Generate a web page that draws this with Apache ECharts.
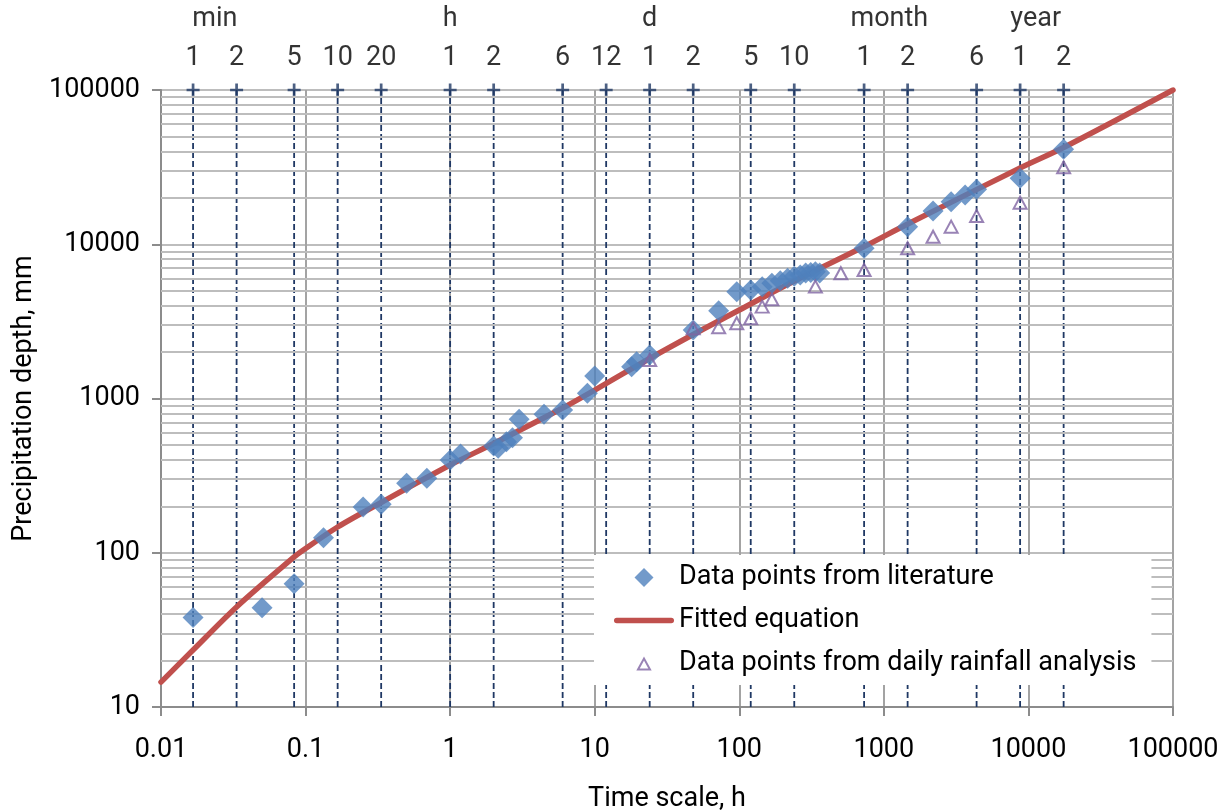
<!DOCTYPE html>
<html>
<head>
<meta charset="utf-8">
<script src="https://cdn.jsdelivr.net/npm/echarts@6/dist/echarts.min.js"></script>
<style>
  html, body { margin: 0; padding: 0; background: #ffffff; }
  #chart { width: 1226px; height: 811px; }
</style>
</head>
<body>
<div id="chart"></div>
<script>
// Precipitation depth (mm) against duration (h)

// Literature data points
const literatureHours = [1/60, 0.05, 5/60, 0.133, 0.25, 1/3, 0.5, 0.69, 1, 1.18, 2, 2.15, 2.45, 2.7, 3, 4.46, 6, 8.9, 10,
  18, 19.5, 24, 48, 72, 96, 120, 144, 168, 192, 216, 240, 264, 288, 312, 336, 360,
  730, 1460, 2190, 2920, 3650, 4380, 8760, 17520];
const literatureDepth = [38, 44, 63, 125, 198, 206, 282, 304, 400, 436, 492, 475, 525, 557, 733, 790, 842, 1081, 1400,
  1607, 1733, 1914, 2780, 3706, 4920, 5050, 5312, 5585, 5807, 6020, 6200, 6330, 6500, 6550, 6640, 6500,
  9420, 13000, 16440, 18880, 20860, 22700, 26800, 41300];

// Daily rainfall analysis
const dailyHours = [24, 48, 72, 96, 120, 144, 168, 336, 504, 730, 1460, 2190, 2920, 4380, 8760, 17520];
const dailyDepth = [1778, 2850, 2900, 3075, 3315, 3940, 4395, 5312, 6490, 6810, 9420, 11190, 13000, 15240, 18600, 31530];

// Fitted equation
const fitHours = [0.01, 1/60, 2/60, 5/60, 0.1, 1/6, 1/3, 1, 2, 6, 10, 24, 48, 100, 240, 720, 1440, 8760, 17520, 100000];
const fitDepth = [14.5, 23.4, 44.5, 93.9, 106.5, 146.9, 211.8, 370.6, 510.8, 867.8, 1135, 1817, 2599, 3748, 5778, 9598, 13430, 31210, 42390, 100000];

// Reference durations marked across the top
const markHours = [1/60, 2/60, 5/60, 10/60, 20/60, 1, 2, 6, 12, 24, 48, 120, 240, 730, 1460, 4380, 8760, 17520];
const markLabels = ['1', '2', '5', '10', '20', '1', '2', '6', '12', '1', '2', '5', '10', '1', '2', '6', '1', '2'];
const unitHours = [0.0236, 1, 24, 1091, 11220];
const unitLabels = ['min', 'h', 'd', 'month', 'year'];

// Axis tick labels
const xTickLabels = ['0.01', '0.1', '1', '10', '100', '1000', '10000', '100000'];
const yTickLabels = ['10', '100', '1000', '10000', '100000'];

const FONT = 'Roboto';
const TEXT = { fontFamily: FONT, fontSize: 27, color: '#000000' };
const Y_MIN = 10;
const Y_TOP = 100000;
const NAVY = '#1F3864';

// horizontal grid at 2..9 within each decade
const minorY = [];
for (let d = 10; d < 100000; d *= 10) {
  for (let m = 2; m <= 9; m++) minorY.push(m * d);
}

const zip = (xs, ys) => xs.map((x, i) => [x, ys[i]]);

// one dashed vertical per marked duration, spanning the full depth range
const markLineSeries = markHours.map(h => ({
  type: 'line', z: 3, silent: true, symbol: 'none',
  lineStyle: { color: NAVY, width: 1.8, type: [6, 3] },
  data: [[h, Y_MIN], [h, Y_TOP]]
}));

const chart = echarts.init(document.getElementById('chart'), null, { renderer: 'canvas' });

chart.setOption({
  animation: false,
  backgroundColor: '#ffffff',
  grid: { left: 161, right: 53, top: 90, bottom: 104, outerBoundsMode: 'none', containLabel: false },
  xAxis: {
    type: 'log', logBase: 10, min: 0.01, max: 100000, splitNumber: 7,
    name: 'Time scale, h', nameLocation: 'middle', nameGap: 79,
    nameTextStyle: TEXT,
    axisLine: { show: true, lineStyle: { color: '#8C8C8C', width: 2 } },
    axisTick: { show: true, length: 9, lineStyle: { color: '#8C8C8C', width: 2 } },
    axisLabel: Object.assign({ margin: 30, formatter: v => xTickLabels[Math.round(Math.log10(v)) + 2] }, TEXT),
    splitLine: { show: true, lineStyle: { color: '#A3A3A3', width: 2 } },
    minorTick: { show: false }, minorSplitLine: { show: false }
  },
  yAxis: {
    type: 'log', logBase: 10, min: Y_MIN, max: Y_TOP, splitNumber: 4,
    name: 'Precipitation depth, mm', nameLocation: 'middle', nameGap: 122, nameRotate: 90,
    nameTextStyle: TEXT,
    axisLine: { show: true, lineStyle: { color: '#8C8C8C', width: 2 } },
    axisTick: { show: true, length: 9, lineStyle: { color: '#8C8C8C', width: 2 } },
    axisLabel: Object.assign({ margin: 21, formatter: v => yTickLabels[Math.round(Math.log10(v)) - 1] }, TEXT),
    splitLine: { show: true, lineStyle: { color: '#BDBDBD', width: 2 } },
    minorTick: { show: false }, minorSplitLine: { show: false }
  },
  legend: {
    orient: 'vertical', left: 594, top: 555, z: 20,
    backgroundColor: '#ffffff', padding: [9, 15, 8, 19],
    itemWidth: 60, itemHeight: 19, itemGap: 16,
    selectedMode: false,
    textStyle: Object.assign({ lineHeight: 27 }, TEXT),
    data: [
      { name: 'Data points from literature', icon: 'path://M0 0M60 19M30 0L39.5 9.5L30 19L20.5 9.5Z' },
      { name: 'Fitted equation', icon: 'path://M2.75 6.75H57.25A2.75 2.75 0 0 1 57.25 12.25H2.75A2.75 2.75 0 0 1 2.75 6.75Z' },
      { name: 'Data points from daily rainfall analysis', icon: 'path://M0 0M60 19M24 15.5L30 4.5L36 15.5Z' }
    ]
  },
  series: [
    {
      // unit captions above the duration marks, plus the minor horizontal grid
      name: 'units', type: 'scatter', z: 1, silent: true, clip: false,
      symbolSize: 1, itemStyle: { color: 'rgba(0,0,0,0)' },
      data: unitHours.map(h => [h, Y_TOP]),
      label: Object.assign({ show: true, position: 'top', distance: 57, lineHeight: 27,
        formatter: p => unitLabels[p.dataIndex] }, TEXT),
      markLine: {
        silent: true, symbol: 'none', label: { show: false }, emphasis: { disabled: true },
        lineStyle: { color: '#BDBDBD', width: 2, type: 'solid' },
        data: minorY.map(v => ({ yAxis: v }))
      }
    },
    ...markLineSeries,
    {
      // crosses on the top edge with the duration numbers
      name: 'marks', type: 'scatter', z: 4, silent: true, clip: false,
      symbol: 'path://M4.75,0H7.25V4.75H12V7.25H7.25V12H4.75V7.25H0V4.75H4.75Z', symbolSize: 13,
      itemStyle: { color: NAVY },
      data: markHours.map(h => [h, Y_TOP]),
      label: Object.assign({ show: true, position: 'top', distance: 12, lineHeight: 27,
        formatter: p => markLabels[p.dataIndex] }, TEXT)
    },
    {
      name: 'Fitted equation', type: 'line', z: 5, smooth: 0.3, symbol: 'none', silent: true,
      lineStyle: { color: '#C0504D', width: 5.5, cap: 'round' },
      itemStyle: { color: '#C0504D' },
      data: zip(fitHours, fitDepth)
    },
    {
      name: 'Data points from literature', type: 'scatter', z: 6, silent: true,
      symbol: 'diamond', symbolSize: 21,
      itemStyle: { color: '#4F81BD' },
      data: zip(literatureHours, literatureDepth)
    },
    {
      name: 'Data points from daily rainfall analysis', type: 'scatter', z: 7, silent: true,
      symbol: 'triangle', symbolSize: [13, 12],
      itemStyle: { color: 'rgba(255,255,255,0)', borderColor: '#8064A2', borderWidth: 2 },
      data: zip(dailyHours, dailyDepth)
    }
  ]
});
</script>
</body>
</html>
